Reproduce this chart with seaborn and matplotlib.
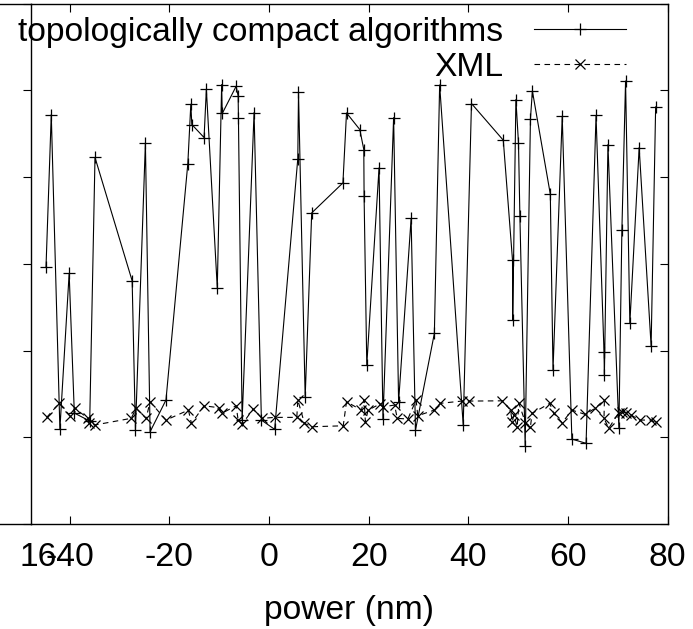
import matplotlib
matplotlib.use("Agg")
import matplotlib.pyplot as plt
import seaborn as sns
import pandas as pd
from matplotlib.lines import Line2D

# ---------------- data ----------------
series1_label = "topologically compact algorithms"
series2_label = "XML"
x_label = "power (nm)"

s1_x = [-44.79, -43.73, -42.00, -40.14, -39.10, -36.01, -34.95, -27.49, -26.83, -24.83,
        -23.89, -20.70, -16.31, -15.71, -15.51, -13.05, -12.59, -10.40, -9.52, -9.40,
        -6.61, -6.21, -6.15, -5.41, -3.01, -1.54, 1.12, 5.77, 5.91, 7.25,
        8.56, 14.83, 15.55, 18.22, 19.02, 19.08, 19.62, 22.08, 22.87, 25.01,
        26.01, 28.52, 29.40, 33.19, 34.25, 38.98, 40.64, 47.03, 48.88, 48.92,
        49.56, 50.08, 50.36, 51.42, 52.48, 52.87, 56.47, 57.01, 58.86, 60.80,
        63.65, 65.65, 67.25, 67.33, 68.04, 70.24, 70.84, 71.58, 72.44, 74.31,
        76.71, 77.62]
s1_y = [29.57, 47.20, 10.94, 28.88, 12.79, 11.87, 42.25, 28.03, 10.83, 43.93,
        10.63, 14.29, 41.55, 48.39, 46.05, 44.55, 50.12, 27.22, 50.66, 47.32,
        50.46, 49.34, 46.81, 11.98, 47.43, 11.98, 10.91, 42.13, 49.80, 14.60,
        35.86, 39.32, 47.39, 45.47, 43.17, 37.79, 18.32, 41.05, 12.06, 46.85,
        14.09, 35.22, 10.83, 21.97, 50.61, 11.41, 48.47, 44.24, 30.41, 23.50,
        48.93, 43.93, 35.56, 8.99, 46.69, 49.92, 38.02, 17.74, 47.00, 9.79,
        9.30, 47.09, 19.85, 17.20, 43.74, 11.03, 33.84, 51.07, 23.12, 43.40,
        20.51, 48.08]

s2_x = [-44.65, -42.14, -40.00, -39.00, -36.35, -36.15, -35.01, -27.68, -26.69, -24.69,
        -23.89, -20.70, -16.19, -15.59, -13.05, -10.06, -9.52, -6.61, -6.21, -5.41,
        -3.21, -1.42, 1.12, 5.57, 5.77, 7.11, 8.56, 14.89, 15.55, 18.54,
        19.08, 19.34, 19.88, 22.22, 22.87, 25.21, 25.73, 27.86, 29.52, 29.86,
        33.19, 34.39, 38.70, 40.18, 46.83, 48.48, 48.82, 49.16, 49.82, 50.16,
        51.48, 52.48, 52.81, 56.35, 57.15, 58.86, 60.80, 63.45, 65.45, 67.33,
        67.25, 68.20, 70.20, 70.86, 71.72, 72.71, 74.39, 76.65, 77.62]
s2_y = [12.29, 13.91, 12.48, 13.33, 12.18, 11.60, 11.41, 12.18, 13.33, 12.18,
        14.09, 11.98, 13.13, 11.60, 13.63, 13.40, 12.75, 13.63, 11.98, 11.49,
        13.25, 12.18, 12.29, 12.29, 14.29, 11.60, 11.21, 11.32, 14.09, 13.13,
        14.29, 11.79, 13.13, 13.82, 13.51, 13.71, 12.18, 12.10, 14.29, 12.48,
        13.13, 13.91, 14.17, 14.17, 14.20, 13.13, 11.79, 12.56, 11.21, 13.91,
        11.67, 11.21, 12.75, 13.91, 12.75, 11.67, 13.13, 12.64, 13.33, 14.29,
        12.18, 11.03, 12.82, 12.94, 12.82, 12.56, 11.98, 11.98, 11.72]

x_ticks = [-40, -20, 0, 20, 40, 60, 80]
x_tick_labels = ["-40", "-20", "0", "20", "40", "60", "80"]
y_ticks = [0, 10, 20, 30, 40, 50, 60]
stray_label = "16"

# ---------------- style ----------------
plt.rcParams['font.family'] = ['Liberation Sans', 'DejaVu Sans']
FS = 24.2

W, H = 693, 629
fig = plt.figure(figsize=(W / 100, H / 100), dpi=100)
L, R, T, B = 31, 667.5, 3.5, 524
ax = fig.add_axes([L / W, 1 - B / H, (R - L) / W, (B - T) / H])

df1 = pd.DataFrame({"x": s1_x, "y": s1_y})
df2 = pd.DataFrame({"x": s2_x, "y": s2_y})

sns.lineplot(data=df1, x="x", y="y", ax=ax, sort=False, estimator=None,
             color="black", lw=0.8, marker="+", markersize=9, markeredgewidth=0.9,
             markeredgecolor="black")
sns.lineplot(data=df2, x="x", y="y", ax=ax, sort=False, estimator=None,
             color="black", lw=0.8, linestyle=(0, (5, 4)), marker="x", markersize=7,
             markeredgewidth=0.9, markeredgecolor="black")

ax.set_xlim(-47.8, 80)
ax.set_ylim(0, 60)
ax.set_xticks(x_ticks)
ax.set_xticklabels(x_tick_labels)
ax.set_yticks(y_ticks)
ax.set_yticklabels([])
ax.set_ylabel("")
ax.set_xlabel(x_label, fontsize=FS, labelpad=16)

for s in ax.spines.values():
    s.set_linewidth(1.0)
    s.set_color("black")

ax.tick_params(axis="x", which="major", direction="in", top=True, bottom=True,
               length=6, width=0.8, labelsize=FS, pad=13)
ax.tick_params(axis="y", which="major", direction="out", left=True, right=False,
               length=6, width=0.8)

ax2 = ax.twinx()
ax2.set_ylim(0, 60)
ax2.set_yticks(y_ticks)
ax2.set_yticklabels([])
ax2.tick_params(axis="y", direction="in", length=6, width=0.8, left=False, right=True)
for s in ax2.spines.values():
    s.set_visible(False)

# top/bottom border extensions to the figure edge
for yy in (T, B):
    fig.add_artist(Line2D([0, L / W], [1 - yy / H, 1 - yy / H], transform=fig.transFigure,
                          color="black", lw=1.0))

# stray label overlapping the first x tick label
fig.text(38 / W, 1 - 566 / H, stray_label, ha="center", va="baseline", fontsize=FS)

# legend (right-aligned text, sample to the right)
text_right = 503
samp_l, samp_r = 534, 626
rows = [(series1_label, 41, 29, "-", "+", 9), (series2_label, 76, 64, (0, (5, 4)), "x", 7)]
for lab, base, ly, ls, mk, ms in rows:
    fig.text(text_right / W, 1 - base / H, lab, ha="right", va="baseline", fontsize=FS)
    fig.add_artist(Line2D([samp_l / W, (samp_l + samp_r) / 2 / W, samp_r / W],
                          [1 - ly / H] * 3, transform=fig.transFigure, color="black",
                          lw=0.8, linestyle=ls, marker=mk, markevery=[1], markersize=ms,
                          markeredgewidth=0.9))

fig.savefig("out.png", dpi=100)
